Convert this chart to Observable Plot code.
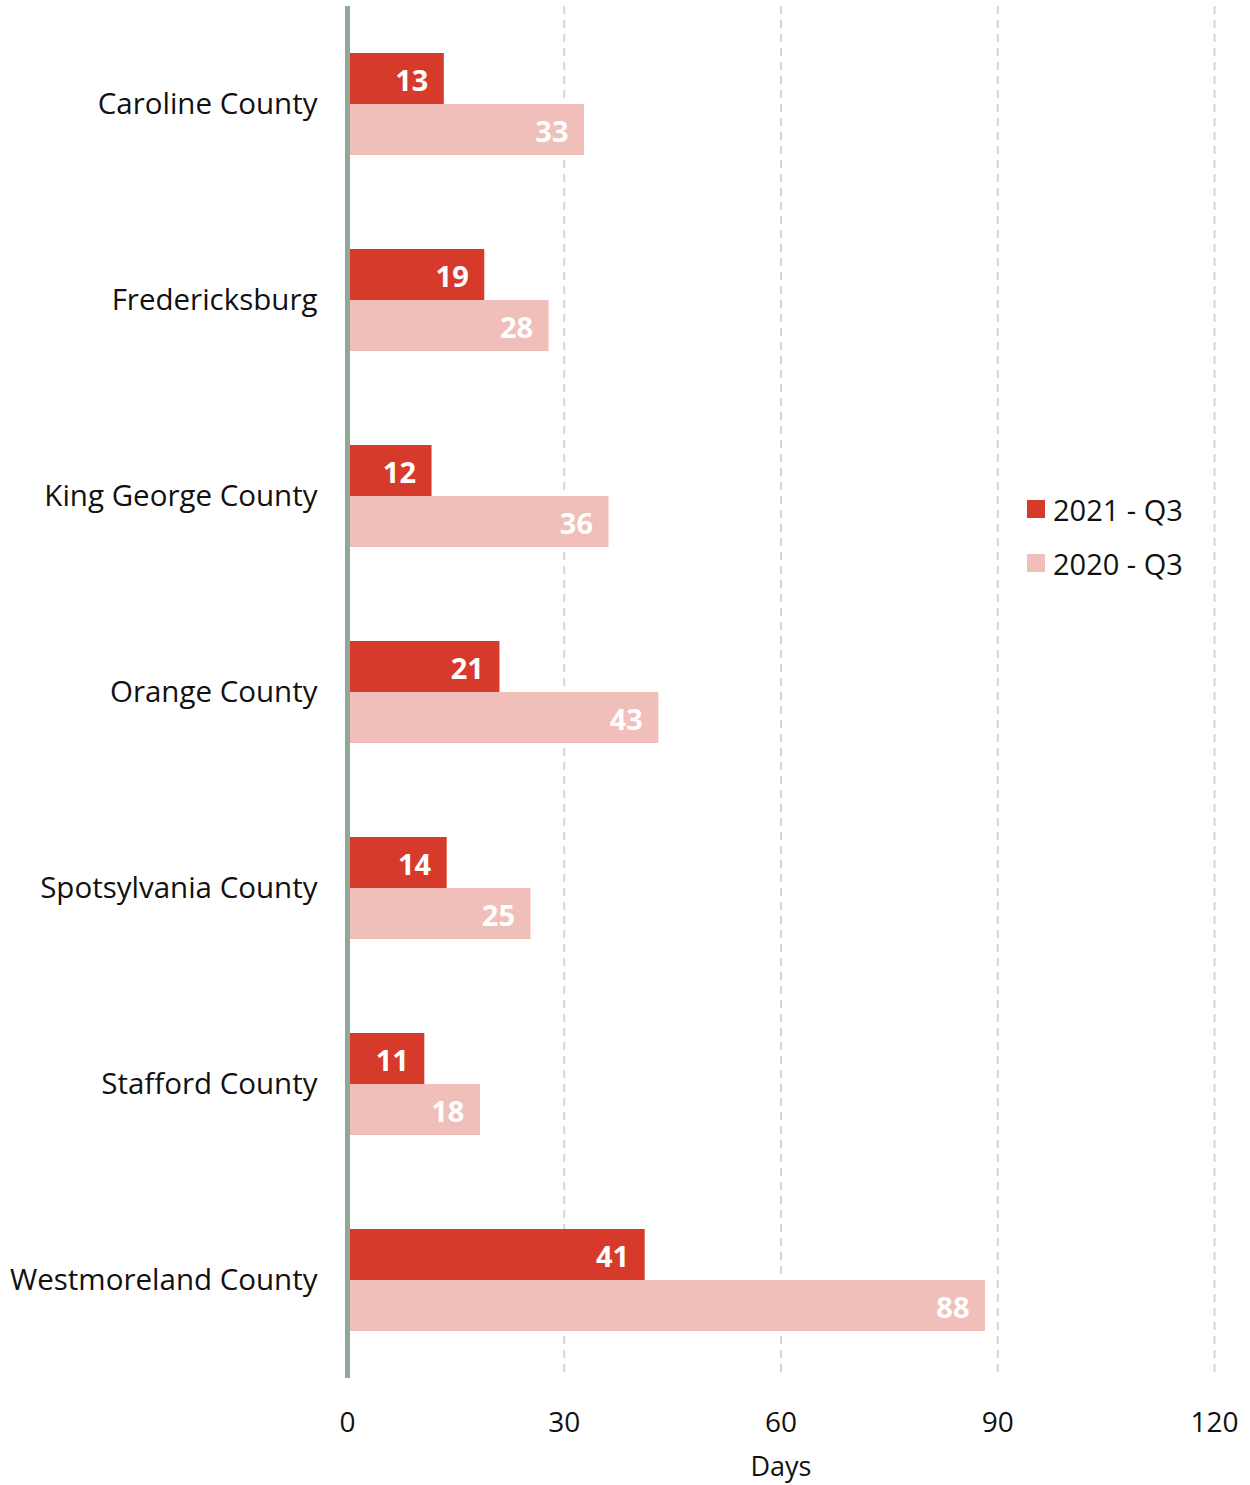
<!DOCTYPE html>
<html>
<head>
<meta charset="utf-8">
<script src="https://cdn.jsdelivr.net/npm/d3@7"></script>
<script src="https://cdn.jsdelivr.net/npm/@observablehq/plot@0.6"></script>
<style>
  html, body { margin: 0; padding: 0; background: #fff; }
  body { font-family: "Open Sans", sans-serif; }
  #wrap { position: relative; width: 1250px; height: 1485px; }
  #legend { position: absolute; left: 1027px; top: 488px; font-family: "Open Sans", sans-serif; font-size: 29px; color: #111; }
  #legend .row { display: flex; align-items: center; height: 42px; margin-bottom: 12px; }
  #legend .sw { width: 18px; height: 18px; margin-right: 8px; }
</style>
</head>
<body>
<div id="wrap">
  <div id="legend"></div>
</div>
<script>
const counties = ["Caroline County", "Fredericksburg", "King George County", "Orange County", "Spotsylvania County", "Stafford County", "Westmoreland County"];
const q3_2021 = [13.4, 19.0, 11.7, 21.1, 13.8, 10.7, 41.2];
const q3_2020 = [32.8, 27.9, 36.2, 43.1, 25.4, 18.4, 88.3];
const seriesNames = ["2021 - Q3", "2020 - Q3"];
const seriesColors = ["#d63a2a", "#f0bfb9"];
const xTicks = [0, 30, 60, 90, 120];

const rows2021 = counties.map((c, i) => ({county: c, value: q3_2021[i]}));
const rows2020 = counties.map((c, i) => ({county: c, value: q3_2020[i]}));

const chart = Plot.plot({
  width: 1250,
  height: 1485,
  marginLeft: 347,
  marginRight: 36,
  marginTop: 6,
  marginBottom: 107,
  style: {fontFamily: "Open Sans, sans-serif", fontSize: "28px", color: "#111", background: "#fff"},
  x: {domain: [0, 120], ticks: xTicks, label: null},
  y: {domain: counties, padding: 0, label: null},
  marks: [
    Plot.gridX(xTicks.filter(d => d > 0), {stroke: "#d4d4d4", strokeOpacity: 1, strokeWidth: 2, strokeDasharray: "8,6"}),
    Plot.barX(rows2021, {x: "value", y: "county", fill: seriesColors[0], insetTop: 47, insetBottom: 98}),
    Plot.barX(rows2020, {x: "value", y: "county", fill: seriesColors[1], insetTop: 98, insetBottom: 47}),
    Plot.text(rows2021, {x: "value", y: "county", text: d => String(Math.round(d.value)), dy: -23, dx: -16, textAnchor: "end", fill: "white", fontWeight: "bold", fontSize: 29}),
    Plot.text(rows2020, {x: "value", y: "county", text: d => String(Math.round(d.value)), dy: 28.5, dx: -16, textAnchor: "end", fill: "white", fontWeight: "bold", fontSize: 29}),
    Plot.ruleX([0], {stroke: "#8fa89a", strokeWidth: 5}),
    Plot.axisY({tickSize: 0, tickPadding: 30, fontSize: 29.5, label: null}),
    Plot.axisX({ticks: xTicks, tickSize: 0, tickPadding: 34, fontSize: 28, label: null}),
    Plot.text(["Days"], {frameAnchor: "bottom", dy: 97, fontSize: 27, fill: "#111"})
  ]
});
document.getElementById("wrap").prepend(chart);

const legend = document.getElementById("legend");
seriesNames.forEach((name, i) => {
  const row = document.createElement("div");
  row.className = "row";
  const sw = document.createElement("span");
  sw.className = "sw";
  sw.style.background = seriesColors[i];
  const t = document.createElement("span");
  t.textContent = name;
  row.append(sw, t);
  legend.append(row);
});
</script>
</body>
</html>
